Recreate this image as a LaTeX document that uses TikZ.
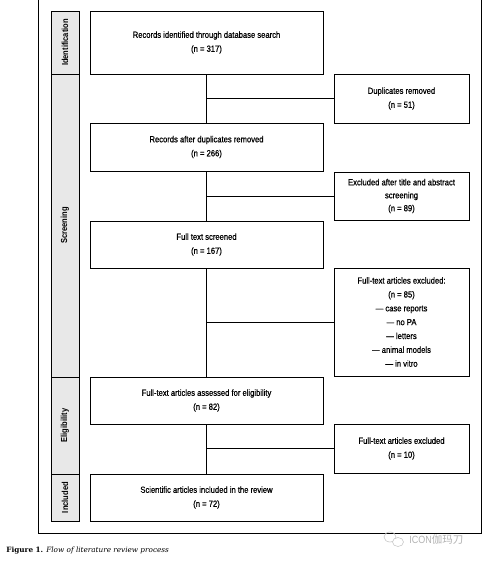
\documentclass[tikz,border=0pt]{standalone}
\usepackage{fontspec}
\setmainfont{Liberation Sans}[FakeStretch=0.86]
\newfontfamily\boxfont{Liberation Sans}[FakeStretch=0.86, FakeBold=0.7]
\newfontfamily\capfont{DejaVu Serif}
\newfontfamily\cjkfont{Noto Sans CJK SC}
\definecolor{stagegray}{HTML}{E8E8E8}
\begin{document}
\begin{tikzpicture}[x=1bp,y=-1bp,
  line width=0.8bp,
  mainbox/.style={draw, minimum width=233bp, inner sep=0pt, align=center, font=\boxfont\fontsize{8.9}{14}\selectfont},
  sidebox/.style={draw, minimum width=135bp, inner sep=0pt, align=center, font=\boxfont\fontsize{8.9}{14}\selectfont},
  stagebox/.style={draw, fill=stagegray, minimum width=28bp, inner sep=0pt},
  stagelab/.style={rotate=90, font=\bfseries\fontsize{8.8}{9}\selectfont},
  link/.style={draw}
]
\useasboundingbox (0,0) rectangle (490,562);
% outer frame
\draw (38,-5) rectangle (481,533);
% stage boxes
\node[stagebox, minimum height=63bp] (sid) at (65,42.5) {};
\node[stagebox, minimum height=303bp] (sscr) at (65,225.5) {};
\node[stagebox, minimum height=97bp] (selig) at (65,425.5) {};
\node[stagebox, minimum height=47bp] (sincl) at (65,497.5) {};
\node[stagelab] at (sid) {Identification};
\node[stagelab] at (sscr) {Screening};
\node[stagelab] at (selig) {Eligibility};
\node[stagelab] at (sincl) {Included};
% main boxes
\node[mainbox, minimum height=63bp] (b1) at (206.5,42.5) {Records identified through database search\\(n = 317)};
\node[mainbox, minimum height=48bp] (b2) at (206.5,147) {Records after duplicates removed\\(n = 266)};
\node[mainbox, minimum height=47bp] (b3) at (206.5,244.5) {Full text screened\\(n = 167)};
\node[mainbox, minimum height=47bp] (b4) at (206.5,400.5) {Full-text articles assessed for eligibility\\(n = 82)};
\node[mainbox, minimum height=47bp] (b5) at (206.5,497.5) {Scientific articles included in the review\\(n = 72)};
% side boxes
\node[sidebox, minimum height=49bp] (s1) at (401.5,98.5) {Duplicates removed\\(n = 51)};
\node[sidebox, minimum height=48bp, font=\boxfont\fontsize{8.9}{13}\selectfont] (s2) at (401.5,196) {Excluded after title and abstract\\screening\\(n = 89)};
\node[sidebox, minimum height=108bp, font=\boxfont\fontsize{8.9}{13.9}\selectfont] (s3) at (401.5,322) {Full-text articles excluded:\\(n = 85)\\— case reports\\— no PA\\— letters\\— animal models\\— in vitro};
\node[sidebox, minimum height=49bp] (s4) at (401.5,448.5) {Full-text articles excluded\\(n = 10)};
% connectors
\draw[link] (b1.south) -- (b2.north);
\draw[link] (b2.south) -- (b3.north);
\draw[link] (b3.south) -- (b4.north);
\draw[link] (b4.south) -- (b5.north);
\draw[link] (s1.west) -- (s1.west -| b1.south);
\draw[link] (s2.west) -- (s2.west -| b1.south);
\draw[link] (s3.west) -- (s3.west -| b1.south);
\draw[link] (s4.west) -- (s4.west -| b1.south);
% caption
\node[anchor=west, inner sep=0pt, font=\capfont\fontsize{7.3}{8}\selectfont] (cap) at (6,551) {\textbf{Figure 1.} \textit{Flow of literature review process}};
% watermark
\draw[gray!45, line width=0.6bp] (390,537) ellipse (6bp and 5bp);
\draw[gray!45, line width=0.6bp, fill=white] (398,542) ellipse (5.5bp and 4.5bp);
\node[anchor=west, inner sep=0pt, text=gray!60, font=\fontsize{10.5}{11}\selectfont] (wm) at (409,540) {ICON{\cjkfont 伽玛刀}};
\end{tikzpicture}
\end{document}
